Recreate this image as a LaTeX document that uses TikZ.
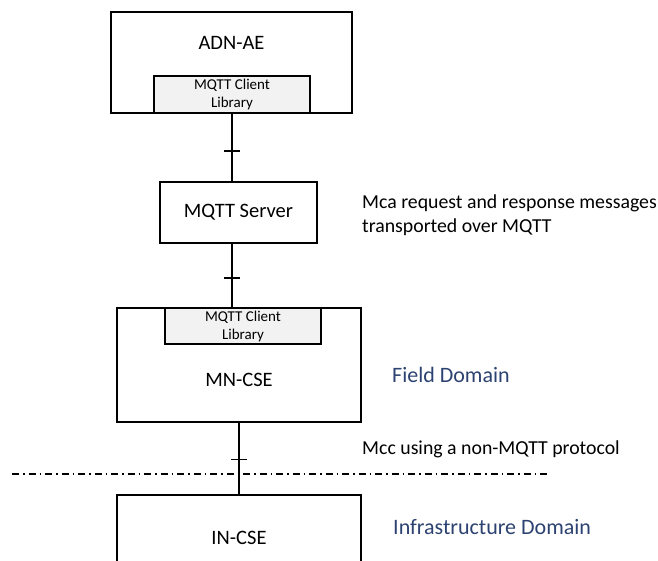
\documentclass[tikz,border=0pt]{standalone}
\usepackage{fontspec}
\setmainfont{Carlito}
\definecolor{domainblue}{RGB}{44,66,112}
\definecolor{libgray}{RGB}{242,242,242}
\begin{document}
\begin{tikzpicture}[x=1pt,y=-1pt,
  box/.style={draw=black,line width=1.4pt,rectangle,inner sep=0pt},
  libbox/.style={box,fill=libgray,align=center,font=\fontsize{15}{18}\selectfont},
  bigtext/.style={inner sep=0pt,font=\fontsize{20.5}{24}\selectfont},
  sidetext/.style={inner sep=0pt,anchor=west,align=left,font=\fontsize{19.8}{24}\selectfont},
  domtext/.style={inner sep=0pt,anchor=west,text=domainblue,font=\fontsize{22}{25}\selectfont},
  conn/.style={line width=1.4pt},
  tickmark/.style={line width=1.4pt},
  sep/.style={line width=1.2pt,dash pattern=on 7pt off 4pt on 1.5pt off 4pt}]
\useasboundingbox (0,0) rectangle (658,560);
\clip (0,0) rectangle (658,560);
% boxes
\node[box,minimum width=241pt,minimum height=101pt] (adn) at (231.5,62.5) {};
\node[bigtext] (adntext) at (231.5,43) {ADN-AE};
\node[libbox,minimum width=156pt,minimum height=37pt] (lib1) at (232,94.5) {MQTT Client\\Library};
\node[box,minimum width=157pt,minimum height=61pt,bigtext] (srv) at (238.5,212.5) {MQTT Server};
\node[box,minimum width=244pt,minimum height=114pt] (mn) at (239,365) {};
\node[bigtext] (mntext) at (239,380) {MN-CSE};
\node[libbox,minimum width=156pt,minimum height=36pt] (lib2) at (243,326) {MQTT Client\\Library};
\node[box,minimum width=244pt,minimum height=120pt] (inc) at (239,555) {};
\node[bigtext] (inctext) at (239,538) {IN-CSE};
% connectors
\draw[conn] (lib1.south) -- coordinate[pos=0.55] (t1) (lib1.south |- srv.north);
\draw[tickmark] ([xshift=-8pt]t1) -- ([xshift=8pt]t1);
\draw[conn] (lib1.south |- srv.south) -- coordinate[pos=0.54] (t2) (lib1.south |- mn.north);
\draw[tickmark] ([xshift=-8pt]t2) -- ([xshift=8pt]t2);
\draw[conn] (mn.south) -- coordinate[pos=0.51] (t3) (inc.north);
\draw[tickmark] ([xshift=-8pt]t3) -- ([xshift=8pt]t3);
% domain separator
\coordinate (sepL) at (12,474);
\coordinate (sepR) at (547,474);
\draw[sep] (sepL) -- (sepR);
% labels
\node[sidetext] (mca) at (362,215) {Mca request and response messages\\transported over MQTT};
\node[sidetext] (mcc) at (362,449) {Mcc using a non-MQTT protocol};
\node[domtext] (field) at (392,375) {Field Domain};
\node[domtext] (infra) at (393,527) {Infrastructure Domain};
\end{tikzpicture}
\end{document}
